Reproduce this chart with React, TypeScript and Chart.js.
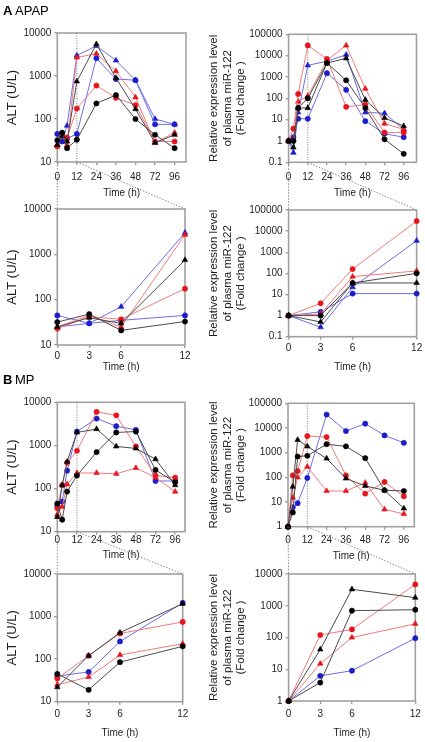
import React, { useEffect, useRef } from "react";
import { Chart, registerables } from "chart.js";

Chart.register(...registerables);

// ---------------- data ----------------
const TIMES_H = [0, 3, 6, 12, 24, 36, 48, 72, 96];
const ZOOM_TIMES_H = [0, 3, 6, 12];
const FULL_TICK_HOURS = [0, 12, 24, 36, 48, 72, 96];
const ZOOM_TICK_HOURS = [0, 3, 6, 12];

const ALT_TICKS = [10, 100, 1000, 10000];
const APAP_MIR_TICKS = [0.1, 1, 10, 100, 1000, 10000, 100000];
const MP_MIR_TICKS = [1, 10, 100, 1000, 10000, 100000];
const MP_MIR_ZOOM_TICKS = [1, 10, 100, 1000, 10000];

// APAP - ALT (U/L)
const APAP_ALT_BLACK_CIRCLE = [32, 48, 21, 33, 230, 360, 100, 43, 21];
const APAP_ALT_BLACK_TRIANGLE = [25, 40, 30, 750, 5500, 900, 170, 28, 43];
const APAP_ALT_RED_CIRCLE = [23, 42, 37, 175, 600, 310, 210, 30, 30];
const APAP_ALT_RED_TRIANGLE = [25, 45, 25, 2700, 3300, 1300, 320, 28, 48];
const APAP_ALT_BLUE_CIRCLE = [45, 30, 35, 45, 2600, 850, 800, 75, 75];
const APAP_ALT_BLUE_TRIANGLE = [25, 30, 70, 3000, 5000, 2300, 800, 100, 75];

// APAP - plasma miR-122 (fold change)
const APAP_MIR_BLACK_CIRCLE = [1, 1.0, 35, 100, 4500, 700, 35, 1.2, 0.25];
const APAP_MIR_BLACK_TRIANGLE = [1, 0.5, 35, 35, 4500, 7500, 85, 12, 5];
const APAP_MIR_RED_CIRCLE = [1, 3.8, 160, 30000, 7000, 40, 50, 2.5, 2.5];
const APAP_MIR_RED_TRIANGLE = [1, 1.2, 70, 130, 6000, 30000, 280, 6.5, 3.5];
const APAP_MIR_BLUE_CIRCLE = [1, 1.5, 11, 11, 1500, 250, 8.5, 2.2, 1.5];
const APAP_MIR_BLUE_TRIANGLE = [1, 0.28, 22, 3500, 5500, 11000, 22, 20, 3.5];

// MP - ALT (U/L)
const MP_ALT_BLACK_CIRCLE = [45, 19, 85, 200, 700, 2000, 2100, 270, 140];
const MP_ALT_BLACK_TRIANGLE = [22, 120, 420, 2000, 2400, 950, 850, 480, 120];
const MP_ALT_RED_CIRCLE = [35, 120, 400, 750, 6000, 5000, 950, 200, 180];
const MP_ALT_RED_TRIANGLE = [25, 38, 125, 230, 230, 220, 300, 180, 85];
const MP_ALT_BLUE_CIRCLE = [40, 50, 260, 2100, 4200, 2800, 2300, 150, 150];

// MP - plasma miR-122 (fold change)
const MP_MIR_BLACK_CIRCLE = [1, 3.8, 700, 750, 2200, 1800, 600, 30, 28];
const MP_MIR_BLACK_TRIANGLE = [1, 42, 3300, 1800, 580, 90, 45, 30, 5.5];
const MP_MIR_RED_CIRCLE = [1, 120, 180, 4700, 4300, 120, 22, 65, 17];
const MP_MIR_RED_TRIANGLE = [1, 15, 100, 270, 28, 28, 60, 5, 3.3];
const MP_MIR_BLUE_CIRCLE = [1, 6.2, 9, 95, 35000, 7500, 15000, 5000, 2500];

const MIR_TITLE = ["Relative expression level", "of plasma miR-122", "(Fold change )"];
const ALT_TITLE = "ALT (U/L)";
const TIME_TITLE = "Time (h)";

// ---------------- styling ----------------
type ColorKey = "black" | "red" | "blue";
type Shape = "circle" | "triangle";
type Series = { color: ColorKey; shape: Shape; values: number[] };

const SERIES_STYLE: Record<ColorKey, { line: string; point: string }> = {
  black: { line: "#4a4a4a", point: "#000000" },
  red: { line: "#f07a7a", point: "#e8141c" },
  blue: { line: "#6d6de6", point: "#1c1ccc" },
};

const APAP_ALT: Series[] = [
  { color: "black", shape: "circle", values: APAP_ALT_BLACK_CIRCLE },
  { color: "black", shape: "triangle", values: APAP_ALT_BLACK_TRIANGLE },
  { color: "red", shape: "circle", values: APAP_ALT_RED_CIRCLE },
  { color: "red", shape: "triangle", values: APAP_ALT_RED_TRIANGLE },
  { color: "blue", shape: "circle", values: APAP_ALT_BLUE_CIRCLE },
  { color: "blue", shape: "triangle", values: APAP_ALT_BLUE_TRIANGLE },
];
const APAP_MIR: Series[] = [
  { color: "black", shape: "circle", values: APAP_MIR_BLACK_CIRCLE },
  { color: "black", shape: "triangle", values: APAP_MIR_BLACK_TRIANGLE },
  { color: "red", shape: "circle", values: APAP_MIR_RED_CIRCLE },
  { color: "red", shape: "triangle", values: APAP_MIR_RED_TRIANGLE },
  { color: "blue", shape: "circle", values: APAP_MIR_BLUE_CIRCLE },
  { color: "blue", shape: "triangle", values: APAP_MIR_BLUE_TRIANGLE },
];
const MP_ALT: Series[] = [
  { color: "black", shape: "circle", values: MP_ALT_BLACK_CIRCLE },
  { color: "black", shape: "triangle", values: MP_ALT_BLACK_TRIANGLE },
  { color: "red", shape: "circle", values: MP_ALT_RED_CIRCLE },
  { color: "red", shape: "triangle", values: MP_ALT_RED_TRIANGLE },
  { color: "blue", shape: "circle", values: MP_ALT_BLUE_CIRCLE },
];
const MP_MIR: Series[] = [
  { color: "black", shape: "circle", values: MP_MIR_BLACK_CIRCLE },
  { color: "black", shape: "triangle", values: MP_MIR_BLACK_TRIANGLE },
  { color: "red", shape: "circle", values: MP_MIR_RED_CIRCLE },
  { color: "red", shape: "triangle", values: MP_MIR_RED_TRIANGLE },
  { color: "blue", shape: "circle", values: MP_MIR_BLUE_CIRCLE },
];

const FONT = "'Liberation Sans', Arial, Helvetica, sans-serif";
const FRAME_COLOR = "#a0a0a0";
const TEXT_COLOR = "#1e1e1e";
const TICK_FONT_SIZE = 10;
const TICK_LEN = 3;

// compressed time axis: after 48 h, 24 h take the width of 12 h
const BREAK_HOUR = 48;
const LATE_COMPRESSION = 2;
const timeToAxis = (h: number) => (h <= BREAK_HOUR ? h : BREAK_HOUR + (h - BREAK_HOUR) / LATE_COMPRESSION);
const identity = (h: number) => h;

type Panel = {
  id: string;
  kind: "full" | "zoom";
  left: number;
  top: number;
  width: number;
  plot: { l: number; t: number; r: number; b: number };
  xMax: number;
  xLabelY: number;
  xTitleY: number;
  yMin: number;
  yMax: number;
  yTicks: number[];
  yTitle: string | string[];
  yTitleX: number;
  yTitleSize: number;
  series: Series[];
  heading?: { letter: string; text: string; x: number; y: number };
  parent?: number;
};

const PANELS: Panel[] = [
  {
    id: "apapAltFull", kind: "full", left: 0, top: 0, width: 203,
    plot: { l: 57.3, t: 33, r: 186, b: 162 }, xMax: 79, xLabelY: 177, xTitleY: 193,
    yMin: 10, yMax: 10000, yTicks: ALT_TICKS, yTitle: ALT_TITLE, yTitleX: 12, yTitleSize: 13,
    series: APAP_ALT, heading: { letter: "A", text: "APAP", x: 3, y: 15 },
  },
  {
    id: "apapMirFull", kind: "full", left: 203, top: 0, width: 222,
    plot: { l: 288.6, t: 34.3, r: 416.5, b: 162.3 }, xMax: 80, xLabelY: 177, xTitleY: 193,
    yMin: 0.1, yMax: 100000, yTicks: APAP_MIR_TICKS, yTitle: MIR_TITLE, yTitleX: 214, yTitleSize: 11.5,
    series: APAP_MIR,
  },
  {
    id: "apapAltZoom", kind: "zoom", left: 0, top: 162, width: 203,
    plot: { l: 57.3, t: 209, r: 185, b: 345 }, xMax: 12, xLabelY: 356.5, xTitleY: 366.5,
    yMin: 10, yMax: 10000, yTicks: ALT_TICKS, yTitle: ALT_TITLE, yTitleX: 12, yTitleSize: 13,
    series: APAP_ALT, parent: 0,
  },
  {
    id: "apapMirZoom", kind: "zoom", left: 203, top: 162, width: 222,
    plot: { l: 288.6, t: 210, r: 417, b: 336.7 }, xMax: 12, xLabelY: 348.5, xTitleY: 367,
    yMin: 0.1, yMax: 100000, yTicks: APAP_MIR_TICKS, yTitle: MIR_TITLE, yTitleX: 214, yTitleSize: 11.5,
    series: APAP_MIR, parent: 1,
  },
  {
    id: "mpAltFull", kind: "full", left: 0, top: 365, width: 203,
    plot: { l: 57.3, t: 402.3, r: 185, b: 531.7 }, xMax: 78, xLabelY: 540, xTitleY: 555,
    yMin: 10, yMax: 10000, yTicks: ALT_TICKS, yTitle: ALT_TITLE, yTitleX: 12, yTitleSize: 13,
    series: MP_ALT, heading: { letter: "B", text: "MP", x: 3, y: 384 },
  },
  {
    id: "mpMirFull", kind: "full", left: 203, top: 365, width: 222,
    plot: { l: 288, t: 403.3, r: 414.3, b: 526.7 }, xMax: 78.5, xLabelY: 540, xTitleY: 555.5,
    yMin: 1, yMax: 100000, yTicks: MP_MIR_TICKS, yTitle: MIR_TITLE, yTitleX: 214, yTitleSize: 11.5,
    series: MP_MIR,
  },
  {
    id: "mpAltZoom", kind: "zoom", left: 0, top: 531, width: 203,
    plot: { l: 57.3, t: 574, r: 182.7, b: 701.7 }, xMax: 12, xLabelY: 714, xTitleY: 733,
    yMin: 10, yMax: 10000, yTicks: ALT_TICKS, yTitle: ALT_TITLE, yTitleX: 12, yTitleSize: 13,
    series: MP_ALT, parent: 4,
  },
  {
    id: "mpMirZoom", kind: "zoom", left: 203, top: 526, width: 222,
    plot: { l: 288.6, t: 574, r: 415.3, b: 701 }, xMax: 12, xLabelY: 714, xTitleY: 733,
    yMin: 1, yMax: 10000, yTicks: MP_MIR_ZOOM_TICKS, yTitle: MIR_TITLE, yTitleX: 214, yTitleSize: 11.5,
    series: MP_MIR, parent: 5,
  },
];

function layoutOf(p: Panel) {
  const tickLH = TICK_FONT_SIZE * 1.2;
  const wantedXAxis = p.xTitleY - p.plot.b + tickLH / 2;
  const height = Math.round(p.plot.b - p.top + wantedXAxis);
  const xAxisHeight = height - (p.plot.b - p.top);
  return {
    height,
    xAxisHeight,
    yAxisWidth: p.plot.l - p.left,
    padTop: p.plot.t - p.top,
    padRight: p.left + p.width - p.plot.r,
    xTickPad: p.xLabelY - p.plot.b - TICK_LEN - tickLH / 2,
  };
}

function buildConfig(p: Panel, parentChart?: Chart, parentPanel?: Panel): any {
  const L = layoutOf(p);
  const full = p.kind === "full";
  const map = full ? timeToAxis : identity;
  const times = full ? TIMES_H : ZOOM_TIMES_H;
  const tickHours = full ? FULL_TICK_HOURS : ZOOM_TICK_HOURS;
  const yTitleLH = p.yTitleSize * 1.18;

  const datasets = p.series.map((s) => {
    const st = SERIES_STYLE[s.color];
    return {
      data: times.map((h, i) => ({ x: map(h), y: s.values[i] })),
      borderColor: st.line,
      backgroundColor: st.point,
      borderWidth: 1,
      pointStyle: s.shape,
      pointRadius: s.shape === "triangle" ? 3.2 : 2.6,
      pointBackgroundColor: st.point,
      pointBorderColor: st.point,
      pointBorderWidth: 0.6,
      tension: 0,
      fill: false,
      clip: false,
    };
  });

  const framePlugin = {
    id: "frame",
    beforeDatasetsDraw(chart: any) {
      const { ctx, chartArea: a } = chart;
      ctx.save();
      ctx.strokeStyle = FRAME_COLOR;
      ctx.lineWidth = 1.6;
      ctx.strokeRect(a.left, a.top, a.right - a.left, a.bottom - a.top);
      if (full) {
        const x12 = chart.scales.x.getPixelForValue(map(12));
        ctx.strokeStyle = "#7a7a7a";
        ctx.lineWidth = 1;
        ctx.setLineDash([1, 1.5]);
        ctx.beginPath();
        ctx.moveTo(x12, a.top);
        ctx.lineTo(x12, a.bottom);
        ctx.stroke();
      }
      ctx.restore();
    },
  };

  const headingPlugin = {
    id: "heading",
    afterDraw(chart: any) {
      if (!p.heading) return;
      const { ctx } = chart;
      const hx = p.heading.x - p.left;
      const hy = p.heading.y - p.top;
      ctx.save();
      ctx.fillStyle = "#000";
      ctx.textBaseline = "alphabetic";
      ctx.textAlign = "left";
      ctx.font = `bold 13px ${FONT}`;
      ctx.fillText(p.heading.letter, hx, hy);
      ctx.font = `13px ${FONT}`;
      ctx.fillText(p.heading.text, hx + 12, hy);
      ctx.restore();
    },
  };

  const connectorPlugin = {
    id: "connector",
    afterDraw(chart: any) {
      if (!parentChart || !parentPanel) return;
      const { ctx, chartArea: a } = chart;
      const dx = parentPanel.left - p.left;
      const dy = parentPanel.top - p.top;
      const px0 = parentChart.scales.x.getPixelForValue(timeToAxis(0)) + dx;
      const px12 = parentChart.scales.x.getPixelForValue(timeToAxis(12)) + dx;
      const py = parentChart.chartArea.bottom + dy;
      ctx.save();
      ctx.strokeStyle = "#8a8a8a";
      ctx.lineWidth = 1;
      ctx.setLineDash([1.5, 1.5]);
      ctx.beginPath();
      ctx.moveTo(px0, py);
      ctx.lineTo(a.left, a.top);
      ctx.moveTo(px12, py);
      ctx.lineTo(a.right, a.top);
      ctx.stroke();
      ctx.restore();
    },
  };

  return {
    type: "line",
    data: { datasets },
    options: {
      responsive: false,
      maintainAspectRatio: false,
      animation: false,
      events: [],
      layout: { padding: { top: L.padTop, right: L.padRight, left: 0, bottom: 0 } },
      plugins: { legend: { display: false }, tooltip: { enabled: false }, title: { display: false } },
      scales: {
        x: {
          type: "linear",
          min: 0,
          max: p.xMax,
          afterBuildTicks: (s: any) => {
            s.ticks = tickHours.map((h) => ({ value: map(h) }));
          },
          afterFit: (s: any) => {
            s.height = L.xAxisHeight;
          },
          ticks: {
            callback: (_v: any, i: number) => String(tickHours[i]),
            font: { family: FONT, size: TICK_FONT_SIZE },
            color: TEXT_COLOR,
            padding: L.xTickPad,
            maxRotation: 0,
            autoSkip: false,
          },
          grid: {
            display: true,
            drawOnChartArea: false,
            drawTicks: true,
            tickLength: TICK_LEN,
            color: FRAME_COLOR,
            lineWidth: 1.4,
          },
          border: { display: false },
          title: {
            display: true,
            text: TIME_TITLE,
            font: { family: FONT, size: TICK_FONT_SIZE },
            color: TEXT_COLOR,
            padding: { top: 0, bottom: 0 },
          },
        },
        y: {
          type: "logarithmic",
          min: p.yMin,
          max: p.yMax,
          afterBuildTicks: (s: any) => {
            s.ticks = p.yTicks.map((v) => ({ value: v }));
          },
          afterFit: (s: any) => {
            s.width = L.yAxisWidth;
          },
          ticks: {
            callback: (v: any) => String(v),
            font: { family: FONT, size: TICK_FONT_SIZE },
            color: TEXT_COLOR,
            padding: 3,
            autoSkip: false,
          },
          grid: {
            display: true,
            drawOnChartArea: false,
            drawTicks: true,
            tickLength: TICK_LEN,
            color: FRAME_COLOR,
            lineWidth: 1.4,
          },
          border: { display: false },
          title: {
            display: true,
            text: p.yTitle,
            font: { family: FONT, size: p.yTitleSize, lineHeight: 1.18 },
            color: TEXT_COLOR,
            padding: { top: p.yTitleX - p.left - yTitleLH / 2, bottom: 0 },
          },
        },
      },
    },
    plugins: [framePlugin, headingPlugin, connectorPlugin],
  };
}

export default function App() {
  const refs = useRef<(HTMLCanvasElement | null)[]>([]);

  useEffect(() => {
    const charts: Chart[] = [];
    PANELS.forEach((p, i) => {
      const canvas = refs.current[i];
      if (!canvas) return;
      const parentChart = p.parent !== undefined ? charts[p.parent] : undefined;
      const parentPanel = p.parent !== undefined ? PANELS[p.parent] : undefined;
      charts[i] = new Chart(canvas, buildConfig(p, parentChart, parentPanel));
    });
    return () => {
      charts.forEach((c) => c && c.destroy());
    };
  }, []);

  return (
    <div style={{ position: "absolute", left: 0, top: 0, width: 425, height: 742, background: "#fff" }}>
      {PANELS.map((p, i) => {
        const L = layoutOf(p);
        return (
          <canvas
            key={p.id}
            ref={(el) => {
              refs.current[i] = el;
            }}
            width={p.width}
            height={L.height}
            style={{ position: "absolute", left: p.left, top: p.top, width: p.width, height: L.height }}
          />
        );
      })}
    </div>
  );
}
